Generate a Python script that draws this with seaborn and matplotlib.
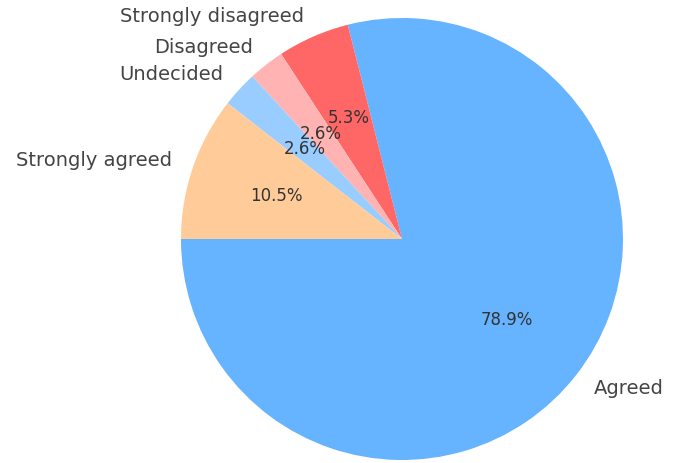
import matplotlib
matplotlib.use("Agg")
import matplotlib.pyplot as plt
import seaborn as sns

# ---------------------------------------------------------
# Data (counts out of 38 responses)
# ---------------------------------------------------------
labels = ["Agreed", "Strongly disagreed", "Disagreed", "Undecided", "Strongly agreed"]
counts = [30, 2, 1, 1, 4]
colors = ["#66b3ff", "#ff6666", "#ffb3b3", "#99ccff", "#ffcc99"]

sns.set_style("white")
plt.rcParams["font.family"] = ["DejaVu Sans"]

fig = plt.figure(figsize=(6.76, 4.63), dpi=100)
ax = fig.add_axes([0, 0, 1, 1])

wedges, texts, autotexts = ax.pie(
    counts,
    labels=labels,
    colors=colors,
    autopct="%1.1f%%",
    startangle=180,
    wedgeprops={"linewidth": 0},
    textprops={"fontsize": 14, "color": "#444444"},
)
for t in autotexts:
    t.set_fontsize(12)
    t.set_color("#333333")

# place the pie: centre at (402, 239) px, radius 221 px
r = 221
cx, cy = 402, 463 - 239
ax.set_aspect("auto")
ax.set_xlim(-cx / r, (676 - cx) / r)
ax.set_ylim(-cy / r, (463 - cy) / r)
ax.axis("off")

fig.savefig("out.png", dpi=100)
